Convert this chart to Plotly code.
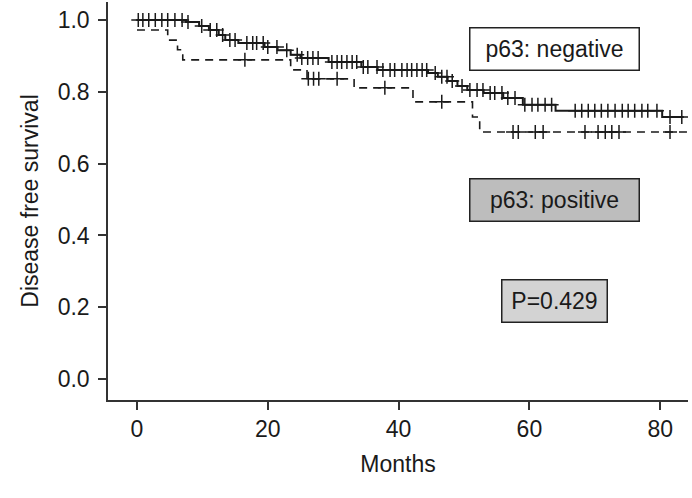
import numpy as np
import plotly.graph_objects as go

# ---- data ----
# p63 negative (solid) step curve: time of each step and survival after it
neg_time = [0, 7.5, 9.5, 11.0, 12.5, 13.5, 15.5, 19.5, 21.5, 23.5, 25.0, 29.3, 34.3, 36.8,
            44.5, 46.0, 47.5, 49.0, 50.5, 53.0, 56.0, 59.0, 64.0, 80.3, 83.6]
neg_surv = [1.0, 0.994, 0.983, 0.972, 0.958, 0.944, 0.936, 0.925, 0.916, 0.903, 0.894, 0.883, 0.869, 0.861,
            0.852, 0.842, 0.830, 0.816, 0.805, 0.797, 0.783, 0.764, 0.747, 0.730, 0.730]
neg_censor = [0.2, 0.9, 1.8, 2.8, 3.8, 4.7, 5.8, 6.9, 7.8, 9.9, 11.2, 12.2, 13.1, 14.2, 15.0,
              16.8, 17.7, 18.3, 19.3, 20.0, 21.4, 22.9, 24.5, 25.2, 26.1, 26.9, 27.7, 29.8,
              30.6, 31.3, 32.1, 32.9, 33.6, 34.6, 35.3, 36.7, 37.6, 38.7, 39.4, 40.5, 41.3,
              42.0, 42.8, 43.6, 44.3, 45.6, 46.6, 47.4, 48.2, 49.7, 50.9, 52.0, 52.9, 54.0,
              54.7, 55.8, 56.7, 57.8, 59.3, 60.4, 61.3, 62.4, 63.4, 67.0, 68.0, 69.0, 70.0,
              71.0, 72.0, 73.1, 74.2, 75.1, 76.1, 77.2, 78.1, 79.5, 81.5, 83.3]

# p63 positive (dashed) step curve
pos_time = [0, 4.7, 6.2, 7.0, 23.5, 26.0, 33.2, 42.2, 51.3, 52.4, 84.2]
pos_surv = [0.972, 0.944, 0.917, 0.889, 0.861, 0.836, 0.811, 0.772, 0.730, 0.688, 0.688]
pos_censor = [16.5, 26.2, 27.0, 27.8, 30.6, 37.9, 46.6, 57.5, 58.3, 60.9, 62.1,
              68.5, 70.5, 71.6, 72.6, 73.7, 81.5]

x_ticks = [0, 20, 40, 60, 80]
y_ticks = [0.0, 0.2, 0.4, 0.6, 0.8, 1.0]
y_tick_text = ["0.0", "0.2", "0.4", "0.6", "0.8", "1.0"]

label_neg = "p63: negative"
label_pos = "p63: positive"
label_p = "P=0.429"


def step_value(times, surv, t):
    idx = np.searchsorted(np.array(times), t, side="right") - 1
    return np.array(surv)[np.clip(idx, 0, len(surv) - 1)]


FONT = "Liberation Sans, Arial, Helvetica, sans-serif"
INK = "#1a1a1a"

fig = go.Figure()

fig.add_trace(go.Scatter(x=neg_time, y=neg_surv, mode="lines", line=dict(shape="hv", color=INK, width=2),
                         hoverinfo="skip", showlegend=False))
fig.add_trace(go.Scatter(x=pos_time, y=pos_surv, mode="lines",
                         line=dict(shape="hv", color=INK, width=1.6, dash="8px,6px"),
                         hoverinfo="skip", showlegend=False))
fig.add_trace(go.Scatter(x=neg_censor, y=step_value(neg_time, neg_surv, neg_censor), mode="markers",
                         marker=dict(symbol="cross-thin", size=10, line=dict(color=INK, width=1.5)),
                         hoverinfo="skip", showlegend=False))
fig.add_trace(go.Scatter(x=pos_censor, y=step_value(pos_time, pos_surv, pos_censor), mode="markers",
                         marker=dict(symbol="cross-thin", size=10, line=dict(color=INK, width=1.5)),
                         hoverinfo="skip", showlegend=False))

ann_font = dict(family=FONT, size=23, color=INK)
common = dict(xref="paper", yref="paper", xanchor="center", yanchor="middle", showarrow=False,
              font=ann_font, bordercolor="#222", borderwidth=1.5, borderpad=0)
fig.add_annotation(text=label_neg, x=0.770, y=0.883, bgcolor="white", width=168, height=41, **common)
fig.add_annotation(text=label_pos, x=0.770, y=0.5025, bgcolor="#bdbdbd", width=168, height=41, **common)
fig.add_annotation(text=label_p, x=0.770, y=0.2487, bgcolor="#d3d3d3", width=104, height=41, **common)

title_font = dict(family=FONT, size=23, color=INK)
fig.update_layout(
    width=692, height=498,
    margin=dict(l=108, r=4, t=2, b=98),
    paper_bgcolor="white", plot_bgcolor="white",
    font=dict(family=FONT, size=23, color=INK),
    xaxis=dict(range=[-4.43, 84.25], tickmode="array", tickvals=x_ticks,
               showline=True, linecolor="#333", linewidth=1.5, ticks="outside", ticklen=8,
               tickwidth=1.5, tickcolor="#333", showgrid=False, zeroline=False,
               title=dict(text="Months", standoff=15, font=title_font)),
    yaxis=dict(range=[-0.058, 1.050], tickmode="array", tickvals=y_ticks, ticktext=y_tick_text,
               showline=True, linecolor="#333", linewidth=1.5, ticks="outside", ticklen=8,
               tickwidth=1.5, tickcolor="#333", showgrid=False, zeroline=False,
               ticklabelstandoff=4,
               title=dict(text="Disease free survival", standoff=13, font=title_font)),
)

fig.write_html("out.html")
